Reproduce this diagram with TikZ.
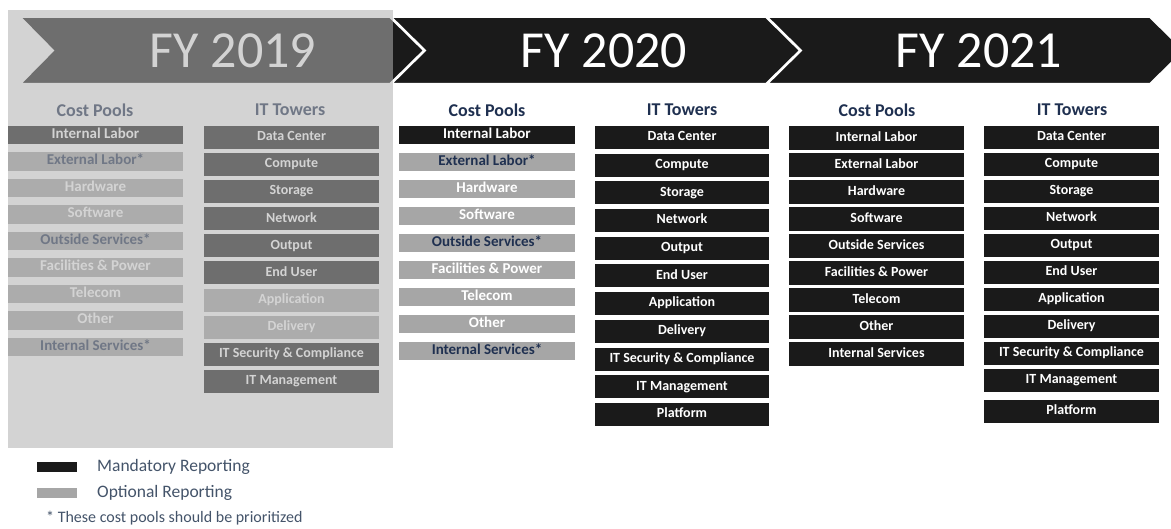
\documentclass[tikz,border=0pt]{standalone}
\usepackage{fontspec}
\setmainfont{Carlito}
\definecolor{blk}{HTML}{1A1A1A}
\definecolor{optg}{HTML}{A6A6A6}
\definecolor{navy}{HTML}{1F3050}
\definecolor{legtxt}{HTML}{44546A}
\definecolor{veil}{RGB}{177,177,177}
\begin{document}
\begin{tikzpicture}[x=1pt,y=-1pt,
  chev/.style={fill=blk,draw=white,line width=2pt,line join=miter},
  title/.style={text=white,font=\fontsize{52}{60}\selectfont,inner sep=0pt},
  head/.style={text=navy,font=\bfseries\fontsize{18}{20}\selectfont,inner sep=0pt},
  box/.style={inner sep=0pt,minimum width=175pt,text height=9.5pt,text depth=3pt},
  cpbig/.style={box,minimum height=18.5pt,font=\bfseries\fontsize{15}{17}\selectfont},
  cpsmall/.style={box,minimum height=24pt,font=\bfseries\fontsize{14}{16}\selectfont},
  tw/.style={box,minimum height=23pt,font=\bfseries\fontsize{14}{16}\selectfont},
  mand/.style={fill=blk,text=white},
  optw/.style={fill=optg,text=white},
  optn/.style={fill=optg,text=navy},
  leg/.style={text=legtxt,anchor=west,inner sep=0pt,font=\fontsize{17.5}{20}\selectfont}
]
\useasboundingbox (0,0) rectangle (1171,529);
\fill[white] (0,0) rectangle (1171,529);
% chevrons
\begin{scope}
\clip (0,0) rectangle (1171,529);
\draw[chev] (20,17) -- (390,17) -- (424,50.5) -- (390,84) -- (20,84) -- (53,50.5) -- cycle;
\draw[chev] (391,17) -- (766,17) -- (800,50.5) -- (766,84) -- (391,84) -- (425,50.5) -- cycle;
\draw[chev] (767,17) -- (1150,17) -- (1184,50.5) -- (1150,84) -- (767,84) -- (801,50.5) -- cycle;
\end{scope}
\node[title] (t19) at (233,51) {FY 2019};
\node[title] (t20) at (604,51) {FY 2020};
\node[title] (t21) at (979,51) {FY 2021};
% headers
\node[head] (h19a) at (95,110) {Cost Pools};
\node[head] (h19b) at (290,110) {IT Towers};
\node[head] (h20a) at (487,110) {Cost Pools};
\node[head] (h20b) at (682,110) {IT Towers};
\node[head] (h21a) at (877,110) {Cost Pools};
\node[head] (h21b) at (1072,110) {IT Towers};
% FY2019 cost pools
\foreach \t/\s [count=\i from 0] in {Internal Labor/mand, External Labor*/optn, Hardware/optw, Software/optw, Outside Services*/optn, Facilities \& Power/optw, Telecom/optw, Other/optw, Internal Services*/optn}
  \node[cpbig,\s] (a19-\i) at (95.5,{135.25+26.5*\i}) {\t};
% FY2019 towers
\foreach \t/\s [count=\i from 0] in {Data Center/mand, Compute/mand, Storage/mand, Network/mand, Output/mand, End User/mand, Application/optw, Delivery/optw, IT Security \& Compliance/mand, IT Management/mand}
  \node[tw,\s] (b19-\i) at (291.5,{137.5+27.1*\i}) {\t};
% FY2020 cost pools
\foreach \t/\s [count=\i from 0] in {Internal Labor/mand, External Labor*/optn, Hardware/optw, Software/optw, Outside Services*/optn, Facilities \& Power/optw, Telecom/optw, Other/optw, Internal Services*/optn}
  \node[cpbig,\s,minimum width=176pt] (a20-\i) at (487,{135.25+27*\i}) {\t};
% FY2020 towers
\foreach \t [count=\i from 0] in {Data Center, Compute, Storage, Network, Output, End User, Application, Delivery, IT Security \& Compliance, IT Management, Platform}
  \node[tw,mand,minimum width=174pt] (b20-\i) at (682,{137.5+27.7*\i}) {\t};
% FY2021 cost pools
\foreach \t [count=\i from 0] in {Internal Labor, External Labor, Hardware, Software, Outside Services, Facilities \& Power, Telecom, Other, Internal Services}
  \node[cpsmall,mand] (a21-\i) at (876.5,{138+27*\i}) {\t};
% FY2021 towers
\foreach \t [count=\i from 0] in {Data Center, Compute, Storage, Network, Output, End User, Application, Delivery, IT Security \& Compliance, IT Management}
  \node[tw,mand] (b21-\i) at (1071.5,{137.5+27*\i}) {\t};
\node[tw,mand] (b21-10) at (1071.5,411.5) {Platform};
% veil over FY2019
\fill[veil,opacity=0.555] (8,10) rectangle (393,448);
% legend
\fill[blk] (37,462) rectangle (77,472);
\fill[optg] (37,488) rectangle (77,498);
\node[leg] (l1) at (97,467) {Mandatory Reporting};
\node[leg] (l2) at (97,493) {Optional Reporting};
\node[leg,font=\fontsize{16}{18}\selectfont] (l3) at (46,518) {* These cost pools should be prioritized};
\end{tikzpicture}
\end{document}
